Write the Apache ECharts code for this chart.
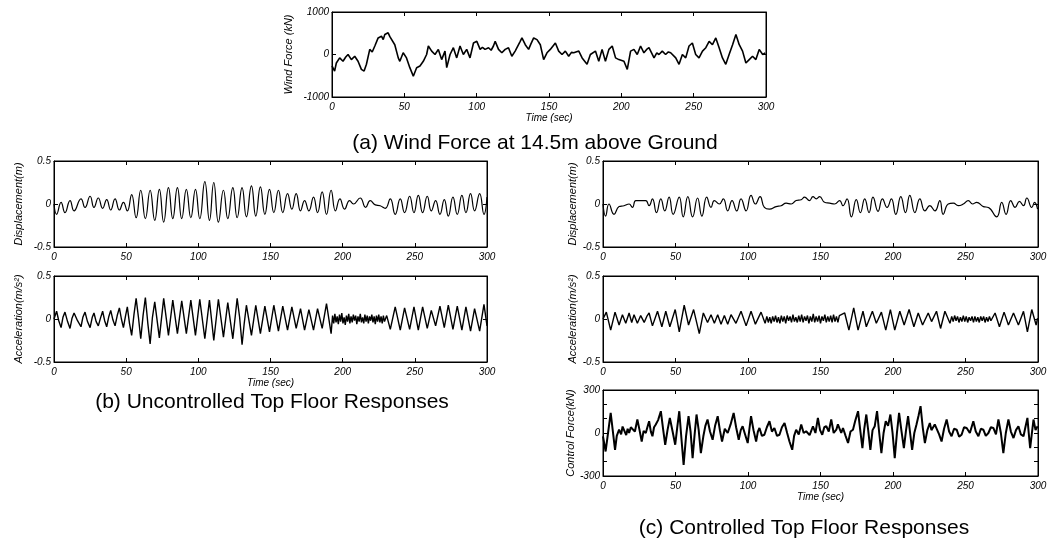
<!DOCTYPE html>
<html>
<head>
<meta charset="utf-8">
<script src="https://cdn.jsdelivr.net/npm/echarts@6/dist/echarts.min.js"></script>
<style>
html, body { margin: 0; padding: 0; background: #fff; }
#main { width: 1053px; height: 541px; }
</style>
</head>
<body>
<div id="main"></div>
<script>
// time (sec), value pairs

// (a) wind force, kN
var windForce = [
    [0,-270],[1.8,-390],[3,-200],[5.3,-80],[7.6,-160],[9.5,-60],[11.1,0],[13.4,-120],[15.7,-40],[18,-160],[20.3,-350],[22.2,-390],[23.8,-230],
    [26.1,120],[27.8,60],[29.6,200],[31.9,390],[34.2,430],[35.4,350],[36.5,470],[38.8,510],[40,420],[41.1,390],[43.4,230],[45.8,-80],[46.9,-160],
    [49.2,40],[51.5,-80],[53.8,-310],[56.2,-510],[58.5,-310],[60.8,-270],[63.1,-160],[65.4,0],[66.6,200],[68.9,80],[71.2,0],[73.5,120],
    [75.8,-120],[78.1,80],[79.3,-310],[81.6,0],[83.9,160],[86.2,-80],[88.5,200],[90.8,0],[93.1,120],[95.4,-80],[97.8,270],[100.1,310],
    [102.4,120],[104,170],[105.8,120],[108.2,160],[110,100],[111.6,200],[112.8,310],[115.1,120],[117.4,40],[119.7,120],[122,160],[124.3,-40],
    [126.6,80],[130.1,310],[131.3,390],[133.6,230],[135.9,120],[137.5,250],[139.4,390],[141.7,350],[144,230],[146.3,-120],[148.6,40],
    [150.9,120],[154.4,270],[156.7,80],[159,0],[161.3,80],[163.6,-40],[165.5,50],[167.1,40],[170.6,80],[172.9,-80],[176.3,-230],[178.6,0],
    [182.1,80],[184.4,-160],[186.7,120],[189,-160],[191.4,120],[193.7,200],[196,-80],[198.3,-120],[201.8,-160],[204.1,-350],[206.4,80],
    [208.7,120],[211,0],[213.3,200],[215.6,40],[217.5,120],[219.1,160],[222.6,-80],[224.5,40],[226,0],[228.3,80],[230.6,0],[232.5,60],
    [234.1,40],[237.6,-80],[239.9,-230],[242.2,0],[244.5,-80],[246.8,200],[249.1,270],[251.4,0],[253.7,-80],[256.1,80],[258.4,160],
    [260.7,310],[263,230],[265.3,390],[267.6,160],[269.9,-80],[272.2,-230],[274.5,0],[276.9,230],[279.2,470],[281.5,230],[283.8,80],
    [286.1,-200],[288.4,-120],[290.7,-40],[293,-120],[295.3,120],[297.7,0],[299.5,40]
];

// (b) uncontrolled top floor displacement, m
var dispUnc = [
    [0,0],[1.8,-0.12],[4.9,0.02],[7.6,-0.10],[11.1,0.04],[13.9,-0.08],[18.7,0.06],[21.5,-0.04],[25.0,0.09],[27.7,-0.04],[30.7,0.07],
    [33.7,-0.05],[36.5,0.05],[39.3,-0.07],[42.3,0.06],[45.3,-0.07],[48.1,0.02],[50.8,-0.08],[53.8,0.11],[56.9,-0.16],[60.1,0.16],
    [63.3,-0.17],[66.6,0.16],[69.8,-0.19],[73.0,0.17],[76.0,-0.21],[79.3,0.19],[82.3,-0.17],[85.5,0.19],[88.5,-0.17],[91.7,0.17],
    [94.8,-0.16],[98.0,0.17],[101.0,-0.17],[104.5,0.26],[107.7,-0.19],[110.7,0.25],[113.9,-0.21],[117.4,0.16],[120.4,-0.17],[123.9,0.19],
    [126.9,-0.16],[130.3,0.19],[133.3,-0.15],[136.8,0.21],[139.8,-0.14],[143.0,0.20],[146.1,-0.12],[149.3,0.17],[152.3,-0.10],[155.5,0.16],
    [158.5,-0.10],[161.8,0.12],[164.8,-0.06],[167.8,0.12],[170.8,-0.08],[173.6,0.04],[176.6,-0.08],[179.8,0.08],[182.6,-0.10],[185.8,0.14],
    [188.8,-0.12],[192.0,0.16],[195.0,-0.08],[198.1,0.06],[201.3,-0.06],[204.8,0.04],[207.5,0.00],[212.1,0.07],[215.9,-0.04],[219.1,0.04],
    [222.6,-0.01],[226.0,-0.02],[229.5,-0.05],[233.0,0.06],[236.4,-0.12],[239.9,0.06],[242.9,-0.10],[246.4,0.09],[249.4,-0.10],[252.4,0.10],
    [255.4,-0.10],[258.6,0.09],[261.4,-0.08],[264.4,0.04],[267.4,-0.12],[270.4,0.05],[273.2,-0.14],[276.4,0.08],[279.4,-0.12],[282.6,0.10],
    [285.4,-0.10],[288.6,0.12],[291.4,-0.08],[294.9,0.12],[297.9,-0.12],[300,0.08]
];

// (b) uncontrolled top floor acceleration, m/s^2
var accUnc = [
    [0,0],[1.8,0.09],[3.3,-0.02],[4.9,-0.10],[6.2,0.02],[7.6,0.08],[9.4,-0.03],[11.1,-0.11],[12.5,0.01],[13.9,0.07],[16.3,-0.02],
    [18.7,-0.09],[20,0.02],[21.5,0.08],[23.2,-0.03],[25.0,-0.10],[26.5,0.02],[27.7,0.07],[29.2,-0.03],[30.7,-0.08],[32.2,0.01],
    [33.7,0.09],[35.1,-0.02],[36.5,-0.09],[38,0.03],[39.3,0.10],[40.8,-0.01],[42.3,-0.08],[43.8,0.04],[45.3,0.13],[46.7,0],
    [48.1,-0.10],[49.5,0.03],[50.8,0.14],[52.3,-0.05],[53.8,-0.19],[55.4,0.05],[56.9,0.24],[58.5,0.02],[60.1,-0.23],[61.7,0.04],
    [63.3,0.25],[65,-0.05],[66.6,-0.29],[68.2,0.02],[69.8,0.20],[73.0,-0.22],[76.0,0.24],[79.3,-0.19],[82.3,0.22],[85.5,-0.17],
    [88.5,0.21],[91.7,-0.17],[94.8,0.22],[98.0,-0.19],[101.0,0.23],[104.5,-0.23],[107.7,0.22],[110.7,-0.25],[113.9,0.23],[117.4,-0.21],
    [120.4,0.19],[123.9,-0.23],[126.9,0.24],[128.6,0.02],[130.3,-0.30],[131.8,-0.05],[133.3,0.16],[136.8,-0.19],[139.8,0.16],[143.0,-0.17],
    [146.1,0.15],[149.3,-0.15],[152.3,0.16],[155.5,-0.14],[158.5,0.15],[161.8,-0.13],[164.8,0.14],[167.8,-0.11],[170.8,0.12],[173.6,-0.13],
    [176.6,0.11],[179.8,-0.13],[182.6,0.12],[185.8,-0.11],[188.8,0.18],[192.0,-0.17],
    [193.0,0.04],[193.8,-0.05],[194.6,0.06],[195.4,-0.04],[196.2,0.03],[197.0,-0.06],[197.8,0.05],[198.6,-0.03],[199.4,0.07],[200.2,-0.05],
    [201.0,0.02],[201.8,-0.07],[202.6,0.04],[203.4,-0.03],[204.2,0.06],[205.0,-0.05],[205.8,0.03],[206.6,-0.04],[207.4,0.05],[208.2,-0.02],
    [209.0,0.04],[209.8,-0.06],[210.6,0.03],[211.4,-0.03],[212.2,0.06],[213.0,-0.04],[213.8,0.02],[214.6,-0.05],[215.4,0.05],[216.2,-0.03],
    [217.0,0.04],[217.8,-0.05],[218.6,0.03],[219.4,-0.02],[220.2,0.05],[221.0,-0.04],[221.8,0.03],[222.6,-0.06],[223.4,0.04],[224.2,-0.03],
    [225.0,0.05],[225.8,-0.04],[226.6,0.03],[227.4,-0.05],[228.2,0.04],[229.0,-0.03],
    [230.5,0.04],[233.0,-0.12],[236.4,0.14],[239.9,-0.13],[242.9,0.13],[246.4,-0.12],[249.4,0.14],[252.4,-0.13],[255.4,0.14],[258.6,-0.11],
    [261.4,0.10],[264.4,-0.08],[267.4,0.15],[270.4,-0.10],[273.2,0.16],[276.4,-0.12],[279.4,0.15],[282.6,-0.13],[285.4,0.14],[288.6,-0.14],
    [291.4,0.12],[294.9,-0.14],[297.9,0.17],[300,-0.08]
];

// (c) controlled top floor displacement, m
var dispCtl = [
    [0,0],[1.8,-0.14],[4.1,0.0],[7.6,-0.12],[11.1,-0.03],[14.5,-0.02],[18.0,0.0],[20.3,-0.04],[22.6,0.04],[26.0,0.04],[29.5,0.04],
    [31.8,-0.02],[34.1,0.06],[36.9,-0.10],[39.9,0.06],[42.6,-0.08],[45.6,0.08],[48.4,-0.12],[52.6,0.08],[55.3,-0.15],[58.5,0.085],
    [61.8,-0.15],[65.2,0.07],[68.2,-0.14],[71.5,0.08],[74.5,-0.04],[76.8,0.04],[80.2,0.0],[83.0,0.06],[86.0,-0.08],[89.0,0.04],
    [92.2,-0.08],[95.2,0.06],[98.7,-0.08],[102.1,0.10],[105.1,0.0],[108.3,0.085],[111.3,-0.04],[114.8,-0.06],[119.4,-0.03],[122.9,-0.02],
    [126.3,0.01],[129.8,0.0],[133.2,0.04],[136.7,0.05],[139.0,0.08],[142.4,0.04],[144.8,0.085],[147.1,0.06],[149.4,0.085],[152.8,0.02],
    [156.3,0.01],[159.7,0.0],[163.2,0.04],[165.5,-0.02],[168.3,0.06],[171.3,-0.15],[174.7,0.05],[177.5,-0.10],[180.5,0.06],[183.5,-0.10],
    [186.2,0.08],[189.7,-0.085],[192.7,0.06],[195.9,-0.04],[198.9,0.06],[201.9,-0.12],[205.4,0.085],[208.6,-0.10],[211.6,0.10],[215.1,-0.10],
    [218.5,0.06],[222.0,-0.08],[225.4,-0.02],[228.9,-0.08],[232.3,0.04],[234.6,-0.12],[238.1,0.0],[241.6,0.01],[245.0,-0.02],[248.5,0.0],
    [251.9,0.04],[254.9,0.0],[257.7,0.02],[262.3,-0.03],[265.8,-0.04],[271.5,-0.15],[275.0,0.02],[278.0,-0.12],[281.2,0.04],[284.2,-0.04],
    [287.2,0.03],[290.0,-0.02],[292.3,0.07],[295.7,-0.04],[297.6,0.02],[299.7,-0.06]
];

// (c) controlled top floor acceleration, m/s^2
var accCtl = [
    [0,0],[2.3,0.08],[5.3,-0.13],[8.3,0.08],[11.1,-0.07],[13.4,0.05],[15.7,-0.05],[18.0,0.07],[19.8,-0.04],[21.4,0.05],[23.7,-0.05],
    [26.0,0.04],[28.4,-0.04],[30.2,0.03],[31.8,0.07],[34.1,-0.08],[37.6,0.09],[40.6,-0.09],[43.3,0.09],[46.1,-0.09],[49.8,0.11],
    [52.6,-0.15],[56.0,0.16],[59.0,-0.07],[62.5,0.11],[66.4,-0.17],[69.2,0.07],[72.1,-0.04],[74.5,0.05],[76.8,-0.05],[79.1,0.05],
    [81.4,-0.06],[83.7,0.04],[86.0,-0.06],[88.3,0.05],[91.7,-0.05],[95.2,0.09],[98.7,-0.08],[102.1,0.09],[105.1,-0.06],[109.0,0.08],
    [111.8,-0.05],
    [113,0.03],[114,-0.04],[115,0.02],[116,-0.05],[117,0.03],[118,-0.03],[119,0.04],[120,-0.04],[121,0.02],[122,-0.05],[123,0.04],
    [124,-0.03],[125,0.03],[126,-0.05],[127,0.04],[128,-0.02],[129,0.03],[130,-0.04],[131,0.05],[132,-0.03],[133,0.02],[134,-0.04],
    [135,0.04],[136,-0.03],[137,0.05],[138,-0.04],[139,0.03],[140,-0.02],[141,0.04],[142,-0.05],[143,0.03],[144,-0.03],[145,0.06],
    [146,-0.04],[147,0.03],[148,-0.03],[149,0.04],[150,-0.05],[151,0.03],[152,-0.02],[153,0.05],[154,-0.04],[155,0.03],[156,-0.03],
    [157,0.04],[158,-0.04],[159,0.05],[160,-0.03],[161,0.03],[162,-0.04],[163,0.04],
    [166.7,0.07],[169.6,-0.13],[172.9,0.13],[175.9,-0.13],[179.3,0.09],[181.6,-0.09],[185.8,0.09],[188.5,-0.05],[192.0,0.08],[195.0,-0.13],
    [198.2,0.11],[201.2,-0.13],[204.7,0.09],[207.7,-0.07],[211.1,0.11],[214.4,-0.09],[217.4,0.07],[220.4,-0.07],[224.3,0.07],[226.6,-0.03],
    [230.0,0.09],[232.8,-0.11],[235.8,0.09],[239.3,-0.05],
    [240.5,0.03],[241.5,-0.03],[242.5,0.04],[243.5,-0.02],[244.5,0.03],[245.5,-0.04],[246.5,0.02],[247.5,-0.03],[248.5,0.04],[249.5,-0.03],
    [250.5,0.03],[251.5,-0.04],[252.5,0.02],[253.5,-0.02],[254.5,0.03],[255.5,-0.04],[256.5,0.03],[257.5,-0.03],[258.5,0.02],[259.5,-0.04],
    [260.5,0.03],[261.5,-0.02],[262.5,0.03],[263.5,-0.04],[264.5,0.02],[265.5,-0.03],[266.5,0.03],[267.5,-0.02],
    [270.4,0.07],[273.4,-0.09],[276.6,0.08],[279.6,-0.07],[283.1,0.07],[286.5,-0.07],[290.0,0.09],[292.7,-0.15],[295.7,0.11],[298.7,-0.07],
    [299.7,0.01]
];

// (c) control force, kN
var ctlForce = [
    [0,-23],[1.8,-129],[5.3,140],[8.3,-117],[9.5,-20],[11.1,23],[12.5,-10],[13.5,45],[14.5,35],[16,-15],[17,30],[18,0],[19.2,40],
    [20.3,47],[22,10],[23.7,94],[25.2,20],[26.7,-59],[28,15],[29.5,0],[30.6,40],[31.8,82],[33,10],[34.1,-23],[35.2,40],[36.4,59],
    [38,90],[39.9,152],[41.4,30],[42.9,-82],[44.5,20],[46.1,105],[48,10],[49.8,-82],[51.2,40],[52.6,152],[54.1,-40],[55.6,-222],
    [57.3,-20],[59.0,117],[60.4,10],[61.8,-175],[63.1,-20],[64.5,129],[66,20],[67.5,-140],[69.2,-23],[70.6,50],[72.1,94],[73.8,10],
    [75.6,-47],[77.3,50],[79.1,117],[80.6,20],[82.1,-59],[84,30],[86.0,0],[88,60],[90.1,140],[91.8,40],[93.6,-47],[95,20],[96.3,47],
    [98,-10],[99.8,-70],[101,30],[102.1,117],[103.8,20],[105.6,-59],[106.8,10],[107.9,35],[109.6,-20],[111.3,-12],[113,40],[114.8,82],
    [116.5,10],[118.2,35],[120,-20],[121.7,-12],[123.4,40],[125.2,70],[127,0],[128.6,-59],[130.5,-117],[131.8,-20],[133.2,23],[135,-10],
    [136.7,59],[138.4,0],[140.1,12],[142.5,-15],[144.8,47],[146.5,0],[148.2,105],[149.7,20],[151.2,-12],[152.6,40],[154.0,47],[155.7,10],
    [157.4,94],[159.1,0],[160.9,23],[162,60],[163.2,70],[164.3,0],[165.5,35],[167.3,-20],[169.0,-70],[170.7,10],[172.4,23],[174.1,90],
    [175.9,152],[177.4,20],[178.9,-105],[180.2,30],[181.6,129],[183,10],[184.4,-117],[185.9,20],[187.4,47],[188.2,100],[189.0,152],
    [190.5,0],[192.0,-140],[193.5,0],[195.0,82],[196.6,50],[198.2,129],[199.7,0],[201.2,-175],[202.7,0],[204.2,140],[205.9,10],
    [207.5,-105],[209,20],[210.4,117],[211.8,0],[213.2,-117],[214.7,0],[216.2,59],[217.6,120],[219.0,187],[220.5,40],[222.0,-70],
    [223.7,20],[225.4,70],[226.5,20],[227.7,12],[228.8,60],[230.0,47],[231.8,-10],[233.5,-59],[235.2,30],[237.0,94],[238.7,10],
    [240.4,-23],[242.1,30],[243.9,23],[245.6,-25],[247.3,-12],[249,40],[250.8,35],[253,0],[255.4,82],[257.1,10],[258.9,-23],[260.6,30],
    [262.3,23],[264,-20],[265.8,0],[267.5,40],[269.2,35],[271,-10],[272.7,94],[274.4,0],[276.1,-140],[277.8,0],[279.6,94],[281.3,10],
    [283.1,-35],[284.8,20],[286.5,47],[288.2,-10],[290.0,-23],[291.3,40],[292.7,105],[293.6,0],[294.6,-105],[295.8,0],[296.9,94],
    [298.3,20],[299.7,47]
];

var timeTicks = [0, 300, 50];   // min, max, step of the time axis

// panel layout: left, top, width, height in pixels
var panels = [
    { box: [332, 12, 434, 85],  data: windForce, y: [-1000, 1000, 1000], labelEvery: 1000, name: 'Wind Force (kN)',  nameGap: 38, time: true,  width: 1.6 },
    { box: [54, 161, 433, 86],  data: dispUnc,   y: [-0.5, 0.5, 0.5],     labelEvery: 0.5,  name: 'Displacement(m)',  nameGap: 30, time: false, width: 1.2, smooth: 0.5 },
    { box: [54, 276, 433, 86],  data: accUnc,    y: [-0.5, 0.5, 0.5],     labelEvery: 0.5,  name: 'Acceleration(m/s\u00b2)', nameGap: 30, time: true, width: 1.4 },
    { box: [603, 161, 435, 86], data: dispCtl,   y: [-0.5, 0.5, 0.5],     labelEvery: 0.5,  name: 'Displacement(m)',  nameGap: 24, time: false, width: 1.2, smooth: 0.5 },
    { box: [603, 276, 435, 86], data: accCtl,    y: [-0.5, 0.5, 0.5],     labelEvery: 0.5,  name: 'Acceleration(m/s\u00b2)', nameGap: 24, time: false, width: 1.4 },
    { box: [603, 390, 435, 86], data: ctlForce,  y: [-300, 300, 100],     labelEvery: 300,  name: 'Control Force(kN)', nameGap: 27, time: true, width: 2 }
];

var titles = [
    { text: '(a) Wind Force at 14.5m above Ground', x: 535, y: 143 },
    { text: '(b) Uncontrolled Top Floor Responses', x: 272, y: 402 },
    { text: '(c) Controlled Top Floor Responses', x: 804, y: 528 }
];

var font = '"Liberation Sans", Arial, sans-serif';
var tickFont = { fontFamily: font, fontStyle: 'italic', fontSize: 10, color: '#000' };

var grids = [], xAxes = [], yAxes = [], series = [];

panels.forEach(function (p, i) {
    grids.push({
        left: p.box[0], top: p.box[1], width: p.box[2], height: p.box[3],
        show: true, borderColor: '#000', borderWidth: 1, backgroundColor: '#fff'
    });

    var tick = { show: true, inside: true, length: 4, lineStyle: { color: '#000', width: 1 } };
    var line = { show: true, onZero: false, lineStyle: { color: '#000', width: 1 } };

    // bottom time axis
    xAxes.push({
        gridIndex: i, type: 'value', position: 'bottom',
        min: timeTicks[0], max: timeTicks[1], interval: timeTicks[2],
        axisLine: line, axisTick: tick, splitLine: { show: false },
        axisLabel: Object.assign({ margin: 5, showMinLabel: true, showMaxLabel: true }, tickFont),
        name: p.time ? 'Time (sec)' : '', nameLocation: 'middle', nameGap: 16,
        nameTextStyle: tickFont
    });
    // top mirror axis (ticks only)
    xAxes.push({
        gridIndex: i, type: 'value', position: 'top',
        min: timeTicks[0], max: timeTicks[1], interval: timeTicks[2],
        axisLine: line, axisTick: tick, splitLine: { show: false }, axisLabel: { show: false }
    });

    yAxes.push({
        gridIndex: i, type: 'value', position: 'left',
        min: p.y[0], max: p.y[1], interval: p.y[2],
        axisLine: line, axisTick: tick, splitLine: { show: false },
        axisLabel: Object.assign({
            margin: 3, showMinLabel: true, showMaxLabel: true,
            formatter: (function (every) {
                return function (v) {
                    var r = Math.round(v / every * 1000) / 1000;
                    return Math.abs(r - Math.round(r)) < 1e-6 ? String(v) : '';
                };
            })(p.labelEvery)
        }, tickFont),
        name: p.name, nameLocation: 'middle', nameRotate: 90, nameGap: p.nameGap,
        nameTextStyle: { fontFamily: font, fontStyle: 'italic', fontSize: 11, color: '#000' }
    });
    yAxes.push({
        gridIndex: i, type: 'value', position: 'right',
        min: p.y[0], max: p.y[1], interval: p.y[2],
        axisLine: line, axisTick: tick, splitLine: { show: false }, axisLabel: { show: false }
    });

    series.push({
        type: 'line',
        xAxisIndex: i * 2, yAxisIndex: i * 2,
        data: p.data,
        showSymbol: false,
        smooth: p.smooth || false,
        lineStyle: { color: '#000', width: p.width },
        silent: true,
        animation: false
    });
});

var myChart = echarts.init(document.getElementById('main'));

var option = {
    backgroundColor: '#fff',
    animation: false,
    grid: grids,
    xAxis: xAxes,
    yAxis: yAxes,
    series: series,
    graphic: titles.map(function (t) {
        return {
            type: 'text', x: t.x, y: t.y, silent: true,
            style: {
                text: t.text, fill: '#000',
                font: '21px ' + font,
                align: 'center', verticalAlign: 'middle',
                textAlign: 'center', textVerticalAlign: 'middle'
            }
        };
    })
};

myChart.setOption(option, true);
</script>
</body>
</html>
